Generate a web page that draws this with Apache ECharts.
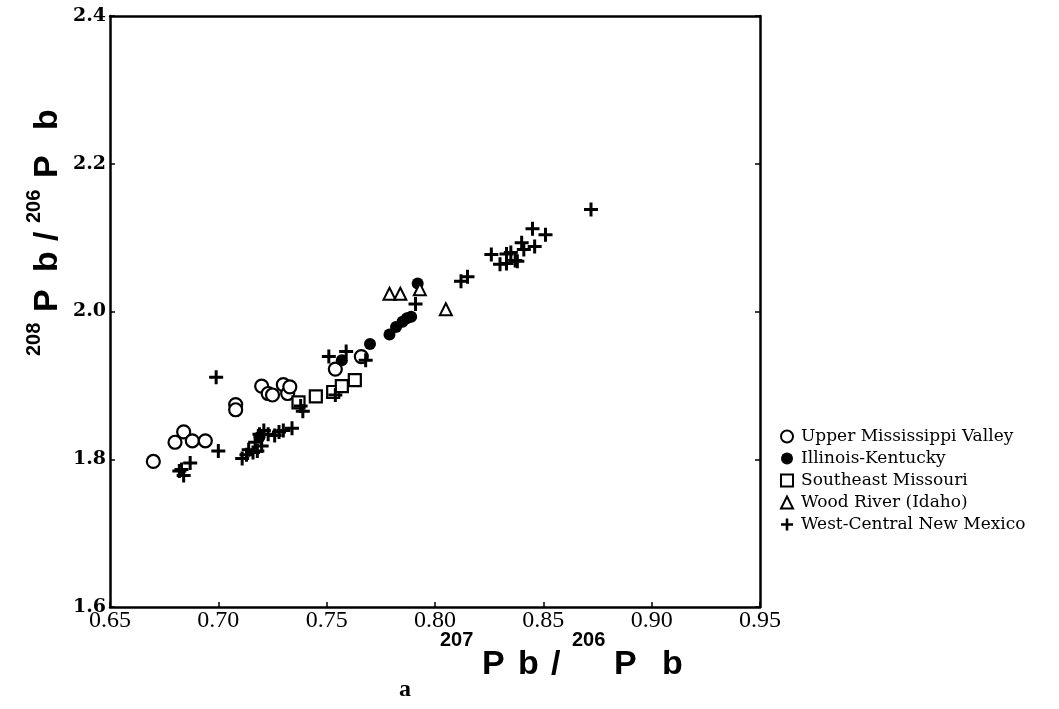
<!DOCTYPE html>
<html>
<head>
<meta charset="utf-8">
<script src="https://cdn.jsdelivr.net/npm/echarts@6/dist/echarts.min.js"></script>
<style>
html, body { margin: 0; padding: 0; background: #fff; }
#chart { width: 1059px; height: 709px; }
</style>
</head>
<body>
<div id="chart"></div>
<script>
// data: [207Pb/206Pb, 208Pb/206Pb]
const seriesNames = ['Upper Mississippi Valley', 'Illinois-Kentucky', 'Southeast Missouri', 'Wood River (Idaho)', 'West-Central New Mexico'];

const upperMississippi = [
  [0.670, 1.797], [0.680, 1.823], [0.684, 1.837], [0.688, 1.825], [0.694, 1.825],
  [0.708, 1.874], [0.708, 1.867], [0.720, 1.899], [0.723, 1.889], [0.725, 1.887],
  [0.730, 1.901], [0.732, 1.889], [0.733, 1.898], [0.754, 1.922], [0.766, 1.939]
];
const illinoisKentucky = [
  [0.719, 1.830], [0.757, 1.934], [0.770, 1.956], [0.779, 1.969], [0.782, 1.979],
  [0.785, 1.986], [0.787, 1.991], [0.789, 1.993], [0.792, 2.038]
];
const southeastMissouri = [
  [0.737, 1.877], [0.745, 1.885], [0.753, 1.891], [0.757, 1.899], [0.763, 1.907]
];
const woodRiver = [
  [0.779, 2.024], [0.784, 2.024], [0.793, 2.030], [0.805, 2.003]
];
const newMexico = [
  [0.683, 1.786], [0.682, 1.784], [0.684, 1.778], [0.687, 1.795], [0.700, 1.811], [0.699, 1.911],
  [0.711, 1.801], [0.713, 1.806], [0.716, 1.809], [0.718, 1.811], [0.720, 1.818], [0.719, 1.834],
  [0.721, 1.839], [0.723, 1.834], [0.726, 1.832], [0.728, 1.837], [0.730, 1.839], [0.734, 1.842],
  [0.717, 1.823], [0.714, 1.813],
  [0.739, 1.865], [0.738, 1.872], [0.754, 1.887], [0.751, 1.939], [0.759, 1.946], [0.768, 1.934],
  [0.791, 2.010], [0.812, 2.041], [0.815, 2.047], [0.826, 2.077], [0.833, 2.078], [0.835, 2.080],
  [0.830, 2.064], [0.833, 2.065], [0.837, 2.069], [0.838, 2.068], [0.840, 2.093], [0.841, 2.084],
  [0.845, 2.112], [0.846, 2.088], [0.851, 2.104], [0.872, 2.138]
];

const xTicks = { min: 0.65, max: 0.95, step: 0.05 };
const yTicks = { min: 1.6, max: 2.4, step: 0.2 };

const plusPath = 'path://M5.5,0H8.5V5.5H14V8.5H8.5V14H5.5V8.5H0V5.5H5.5Z';

let chart = echarts.init(document.getElementById('chart'));

const axisLine = { show: true, lineStyle: { color: '#000', width: 2.5 } };
const supFont = 'bold 20px "Liberation Sans"';
const bigFont = 'bold 34px "Liberation Sans"';

// axis titles, one glyph group at a time so the superscripts sit right
const xTitle = [['207', 440, 'sup'], ['P', 482, 'big'], ['b', 518, 'big'], ['/', 551, 'big'],
                ['206', 572, 'sup'], ['P', 614, 'big'], ['b', 662, 'big']];
const yTitle = [['208', 356, 'sup'], ['P', 312, 'big'], ['b', 272, 'big'], ['/', 241, 'big'],
                ['206', 223, 'sup'], ['P', 178, 'big'], ['b', 130, 'big']];

let graphics = [];
xTitle.forEach(function (t) {
  graphics.push({
    type: 'text', x: t[1], y: t[2] === 'sup' ? 650 : 682,
    style: { text: t[0], font: t[2] === 'sup' ? supFont : bigFont, fill: '#000',
             textAlign: 'left', textVerticalAlign: 'bottom' }
  });
});
yTitle.forEach(function (t) {
  graphics.push({
    type: 'text', x: t[2] === 'sup' ? 44 : 65, y: t[1], rotation: Math.PI / 2,
    style: { text: t[0], font: t[2] === 'sup' ? supFont : bigFont, fill: '#000',
             textAlign: 'left', textVerticalAlign: 'bottom' }
  });
});
graphics.push({
  type: 'text', x: 405, y: 690,
  style: { text: 'a', font: 'bold 24px "Liberation Serif"', fill: '#000',
           textAlign: 'center', textVerticalAlign: 'middle' }
});

let option = {
  backgroundColor: '#fff',
  animation: false,
  grid: { left: 110, right: 299, top: 16, bottom: 102 },
  legend: {
    orient: 'vertical',
    left: 780,
    top: 428,
    padding: 0,
    itemWidth: 12,
    itemHeight: 12,
    itemGap: 5,
    data: seriesNames,
    textStyle: { fontFamily: 'DejaVu Serif', fontSize: 17, color: '#000', padding: [0, 0, 0, 3] }
  },
  xAxis: [
    {
      type: 'value', min: xTicks.min, max: xTicks.max, interval: xTicks.step,
      axisLine: axisLine,
      axisTick: { show: true, inside: true, length: 5, lineStyle: { color: '#000', width: 1.5 } },
      splitLine: { show: false },
      axisLabel: { formatter: function (v) { return v.toFixed(2); },
                   fontFamily: 'Liberation Serif', fontSize: 24, color: '#000', margin: 2 }
    },
    {
      type: 'value', position: 'top', min: xTicks.min, max: xTicks.max, interval: xTicks.step,
      axisLine: axisLine, axisTick: { show: false }, axisLabel: { show: false }, splitLine: { show: false }
    }
  ],
  yAxis: [
    {
      type: 'value', min: yTicks.min, max: yTicks.max, interval: yTicks.step,
      axisLine: axisLine,
      axisTick: { show: true, inside: true, length: 5, lineStyle: { color: '#000', width: 1.5 } },
      splitLine: { show: false },
      axisLabel: { formatter: function (v) { return v.toFixed(1); },
                   fontFamily: 'DejaVu Serif', fontWeight: 'bold', fontSize: 19, color: '#000', margin: 4 }
    },
    {
      type: 'value', position: 'right', min: yTicks.min, max: yTicks.max, interval: yTicks.step,
      axisLine: axisLine,
      axisTick: { show: true, inside: true, length: 5, lineStyle: { color: '#000', width: 1.5 } },
      axisLabel: { show: false }, splitLine: { show: false }
    }
  ],
  graphic: graphics,
  series: [
    {
      name: seriesNames[0], type: 'scatter', data: upperMississippi,
      symbol: 'circle', symbolSize: 13,
      itemStyle: { color: '#fff', borderColor: '#000', borderWidth: 2.2, opacity: 1 }
    },
    {
      name: seriesNames[1], type: 'scatter', data: illinoisKentucky,
      symbol: 'circle', symbolSize: 12,
      itemStyle: { color: '#000', opacity: 1 }
    },
    {
      name: seriesNames[2], type: 'scatter', data: southeastMissouri,
      symbol: 'rect', symbolSize: 12,
      itemStyle: { color: '#fff', borderColor: '#000', borderWidth: 2.2, opacity: 1 }
    },
    {
      name: seriesNames[3], type: 'scatter', data: woodRiver,
      symbol: 'triangle', symbolSize: 12,
      itemStyle: { color: '#fff', borderColor: '#000', borderWidth: 2, opacity: 1 }
    },
    {
      name: seriesNames[4], type: 'scatter', data: newMexico,
      symbol: plusPath, symbolSize: 14,
      itemStyle: { color: '#000', opacity: 1 }
    }
  ]
};
chart.setOption(option);
</script>
</body>
</html>
